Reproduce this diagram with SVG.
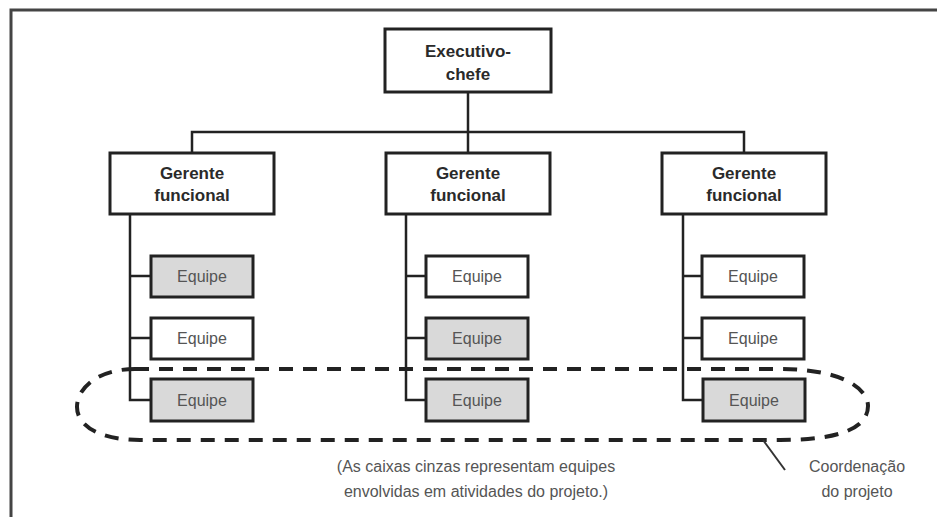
<svg xmlns="http://www.w3.org/2000/svg" width="937" height="517" viewBox="0 0 937 517">
  <style>
    .box { fill: #ffffff; stroke: #222; stroke-width: 3; }
    .box.gray { fill: #d9d9d9; }
    .head { font-family: "Liberation Sans", Arial, sans-serif; font-weight: bold; font-size: 17px; fill: #2a2a2a; text-anchor: middle; }
    .team { font-family: "Liberation Sans", Arial, sans-serif; font-size: 16px; fill: #555; text-anchor: middle; }
    .note { font-family: "Liberation Sans", Arial, sans-serif; font-size: 16px; fill: #555; text-anchor: middle; }
    .wire { fill: none; stroke: #222; stroke-width: 2.5; }
    .frame { fill: none; stroke: #444; stroke-width: 3; }
  </style>

  <rect width="937" height="517" fill="#ffffff"/>

  <!-- page frame (top and left edges) -->
  <path class="frame" d="M11,517 V10 H937"/>

  <!-- connectors -->
  <g id="connectors">
    <path class="wire" d="M468,92 V132"/>
    <path class="wire" d="M192,153 V132 H744 V153"/>
    <path class="wire" d="M468,132 V153"/>
    <!-- left column spine -->
    <path class="wire" d="M130,214 V400 H151 M130,338 H151 M130,276 H151"/>
    <!-- middle column spine -->
    <path class="wire" d="M406,214 V400 H426 M406,338 H426 M406,276 H426"/>
    <!-- right column spine -->
    <path class="wire" d="M683,214 V400 H703 M683,338 H703 M683,276 H703"/>
  </g>

  <!-- top executive -->
  <g id="exec">
    <rect class="box" x="385" y="29" width="166" height="63"/>
    <text class="head" x="468" y="57">Executivo-</text>
    <text class="head" x="468" y="80">chefe</text>
  </g>

  <!-- functional managers -->
  <g id="mgr-left">
    <rect class="box" x="110" y="153" width="164" height="61"/>
    <text class="head" x="192" y="179">Gerente</text>
    <text class="head" x="192" y="201">funcional</text>
  </g>
  <g id="mgr-mid">
    <rect class="box" x="386" y="153" width="164" height="61"/>
    <text class="head" x="468" y="179">Gerente</text>
    <text class="head" x="468" y="201">funcional</text>
  </g>
  <g id="mgr-right">
    <rect class="box" x="662" y="153" width="164" height="61"/>
    <text class="head" x="744" y="179">Gerente</text>
    <text class="head" x="744" y="201">funcional</text>
  </g>

  <!-- teams, left column -->
  <g id="team-l1">
    <rect class="box gray" x="151" y="256" width="102" height="41"/>
    <text class="team" x="202" y="282">Equipe</text>
  </g>
  <g id="team-l2">
    <rect class="box" x="151" y="318" width="102" height="41"/>
    <text class="team" x="202" y="344">Equipe</text>
  </g>
  <g id="team-l3">
    <rect class="box gray" x="151" y="379" width="102" height="42"/>
    <text class="team" x="202" y="406">Equipe</text>
  </g>

  <!-- teams, middle column -->
  <g id="team-m1">
    <rect class="box" x="426" y="256" width="102" height="41"/>
    <text class="team" x="477" y="282">Equipe</text>
  </g>
  <g id="team-m2">
    <rect class="box gray" x="426" y="318" width="102" height="41"/>
    <text class="team" x="477" y="344">Equipe</text>
  </g>
  <g id="team-m3">
    <rect class="box gray" x="426" y="379" width="102" height="42"/>
    <text class="team" x="477" y="406">Equipe</text>
  </g>

  <!-- teams, right column -->
  <g id="team-r1">
    <rect class="box" x="702" y="256" width="102" height="41"/>
    <text class="team" x="753" y="282">Equipe</text>
  </g>
  <g id="team-r2">
    <rect class="box" x="702" y="318" width="102" height="41"/>
    <text class="team" x="753" y="344">Equipe</text>
  </g>
  <g id="team-r3">
    <rect class="box gray" x="703" y="379" width="102" height="42"/>
    <text class="team" x="754" y="406">Equipe</text>
  </g>

  <!-- project coordination loop -->
  <g id="coordination">
    <path d="M135,369 H780 C845,369 868,390 868,406 C868,426 845,440 780,440 H140 C98,440 77,425 77,407 C77,388 98,369 135,369 Z" fill="none" stroke="#222" stroke-width="4" stroke-dasharray="14 10"/>
    <path d="M763,440 L785,470" fill="none" stroke="#333" stroke-width="2"/>
    <text class="note" x="857" y="472">Coordenação</text>
    <text class="note" x="857" y="497">do projeto</text>
  </g>

  <!-- caption -->
  <g id="caption">
    <text class="note" x="476" y="472">(As caixas cinzas representam equipes</text>
    <text class="note" x="476" y="497">envolvidas em atividades do projeto.)</text>
  </g>
</svg>
